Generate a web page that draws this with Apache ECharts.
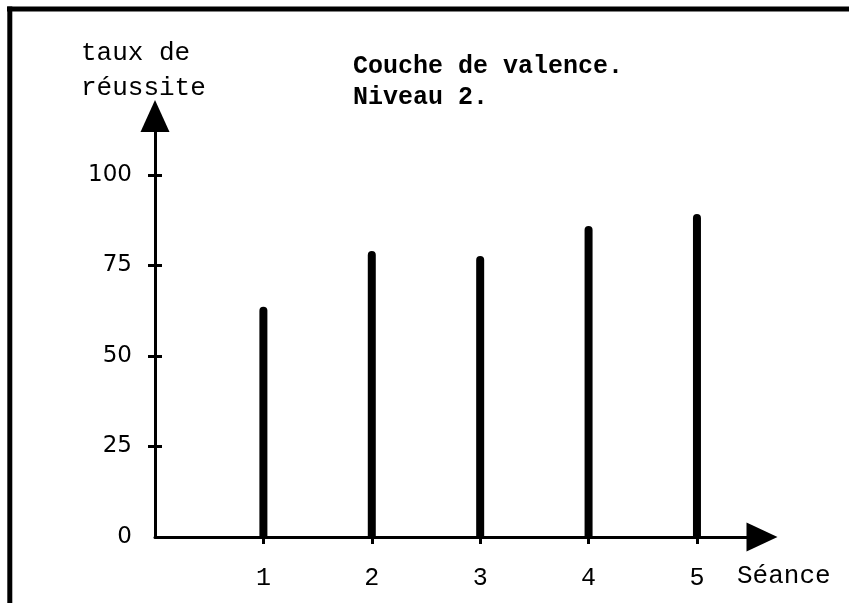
<!DOCTYPE html>
<html><head><meta charset="utf-8">
<script src="https://cdn.jsdelivr.net/npm/echarts@6/dist/echarts.min.js"></script>
<style>html,body{margin:0;padding:0;background:#fff}#c{width:849px;height:603px}</style>
</head><body><div id="c"></div>
<script>
const seances = [1, 2, 3, 4, 5];
const tauxReussite = [63.6, 79.0, 77.6, 85.9, 89.2];
const yTickLabels = [0, 25, 50, 75, 100];
const yTicks = [25, 50, 75, 100];
const titleLines = ['Couche de valence.', 'Niveau 2.'];
const yAxisName = ['taux de', 'réussite'];
const xAxisName = 'Séance';

const mono = '"Liberation Mono", "Courier New", monospace';
const sans = '"DejaVu Sans", sans-serif';

const chart = echarts.init(document.getElementById('c'), null, {renderer: 'canvas'});
const yBase = {
  type: 'value', min: 0, max: 116.3, interval: 25, position: 'left', offset: 0,
  splitLine: {show: false}
};
chart.setOption({
  animation: false,
  backgroundColor: '#fff',
  grid: {left: 155, top: 116, width: 607, height: 421},
  xAxis: {
    type: 'value', min: 0, max: 5.6, interval: 1,
    axisLine: {show: true, lineStyle: {color: '#000', width: 3}, symbol: ['none', 'triangle'], symbolSize: [29, 31]},
    axisTick: {show: true, length: 7, lineStyle: {color: '#000', width: 3}, customValues: seances},
    axisLabel: {customValues: seances, margin: 29, color: '#000', fontFamily: mono, fontSize: 25},
    splitLine: {show: false}
  },
  yAxis: [
    Object.assign({}, yBase, {
      axisLine: {show: true, lineStyle: {color: '#000', width: 3}, symbol: ['none', 'triangle'], symbolSize: [29, 32]},
      axisTick: {show: true, length: 7, lineStyle: {color: '#000', width: 3}, customValues: yTicks},
      axisLabel: {customValues: yTickLabels, margin: 23, color: '#000', fontFamily: sans, fontSize: 23}
    }),
    Object.assign({}, yBase, {
      axisLine: {show: false},
      axisTick: {show: true, inside: true, length: 7, lineStyle: {color: '#000', width: 3}, customValues: yTicks},
      axisLabel: {show: false}
    })
  ],
  series: [{
    type: 'bar',
    xAxisIndex: 0, yAxisIndex: 0,
    data: seances.map((s, i) => [s, tauxReussite[i]]),
    barWidth: 8,
    itemStyle: {color: '#000', borderRadius: [4, 4, 0, 0]}
  }],
  graphic: [
    {type: 'rect', shape: {x: 7, y: 6.5, width: 850, height: 5}, style: {fill: '#000'}},
    {type: 'rect', shape: {x: 7.3, y: 6.5, width: 5, height: 600}, style: {fill: '#000'}},
    {type: 'text', x: 353, y: 51, style: {text: titleLines.join('\n'), font: 'bold 25px ' + mono, fill: '#000', lineHeight: 31}},
    {type: 'text', x: 81, y: 36, style: {text: yAxisName.join('\n'), font: '26px ' + mono, fill: '#000', lineHeight: 35}},
    {type: 'text', x: 737, y: 563, style: {text: xAxisName, font: '26px ' + mono, fill: '#000'}}
  ]
});
</script>
</body></html>
